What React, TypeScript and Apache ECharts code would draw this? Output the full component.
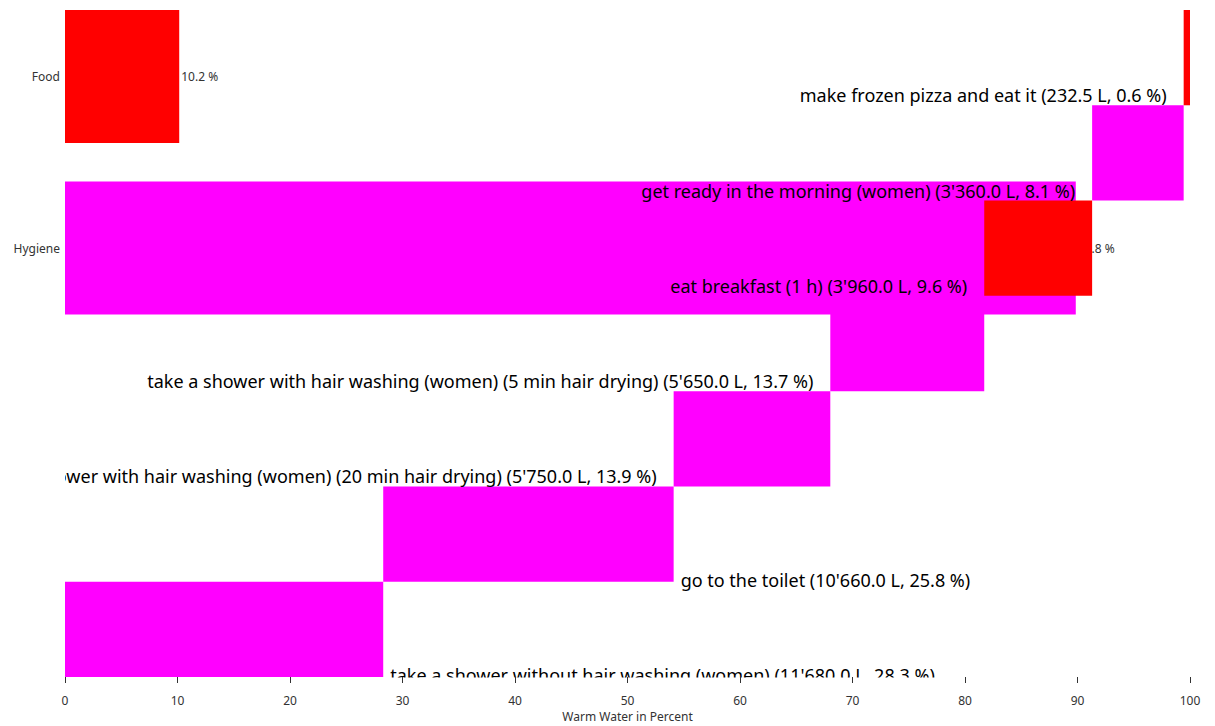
import React, { useEffect, useRef } from "react";
import * as echarts from "echarts";

const activities = [
  "take a shower without hair washing (women)",
  "go to the toilet",
  "take a shower with hair washing (women) (20 min hair drying)",
  "take a shower with hair washing (women) (5 min hair drying)",
  "eat breakfast (1 h)",
  "get ready in the morning (women)",
  "make frozen pizza and eat it",
];
const liters = [11680, 10660, 5750, 5650, 3960, 3360, 232.5];
const activityGroup = ["Hygiene", "Hygiene", "Hygiene", "Hygiene", "Food", "Hygiene", "Food"];
const groups = ["Food", "Hygiene"];
const groupColors: Record<string, string> = { Food: "#ff0000", Hygiene: "#ff00ff" };
const xTicks = [0, 10, 20, 30, 40, 50, 60, 70, 80, 90, 100];

const FONT = "'Noto Sans', 'Open Sans', sans-serif";

function fmtL(v: number) {
  const s = v.toFixed(1);
  const [i, d] = s.split(".");
  return i.replace(/\B(?=(\d{3})+(?!\d))/g, "'") + "." + d;
}

export default function App() {
  const ref = useRef<HTMLDivElement>(null);
  useEffect(() => {
    document.body.style.margin = "0";
    if (!ref.current) return;
    const chart = echarts.init(ref.current, undefined, { renderer: "svg" });
    const total = liters.reduce((a, b) => a + b, 0);
    const pct = liters.map((l) => (l / total) * 100);
    const starts: number[] = [];
    let acc = 0;
    pct.forEach((p) => {
      starts.push(acc);
      acc += p;
    });
    const groupPct = groups.map((g) =>
      liters.reduce((s, l, i) => (activityGroup[i] === g ? s + l : s), 0) / total * 100
    );

    const visibleData = pct.map((p, i) => {
      const left = starts[i] > 40;
      return {
        value: p,
        itemStyle: { color: groupColors[activityGroup[i]] },
        label: {
          show: true,
          formatter: `${activities[i]} (${fmtL(liters[i])} L, ${p.toFixed(1)} %)`,
          position: left ? [-17, "100%"] : ["100%", "100%"],
          align: left ? "right" : "left",
          verticalAlign: "middle",
          offset: left ? [0, -10] : [7, -2],
          fontSize: 18,
          fontFamily: FONT,
          color: "#000",
        },
      };
    });

    chart.setOption({
      animation: false,
      grid: [
        { left: 65, right: 25, top: -9.25, height: 343, containLabel: false, outerBoundsMode: "none" },
        { left: 65, right: 25, top: 10, height: 667, containLabel: false, outerBoundsMode: "none" },
      ],
      xAxis: [
        { type: "value", gridIndex: 0, min: 0, max: 100, show: false },
        {
          type: "value",
          gridIndex: 1,
          min: 0,
          max: 100,
          interval: 10,
          z: 60,
          splitLine: { show: false },
          axisLine: { show: false },
          axisTick: { show: true, length: 6, lineStyle: { color: "#333" } },
          axisLabel: {
            margin: 17,
            fontSize: 12,
            fontFamily: FONT,
            color: "#333",
            formatter: (v: number) => (xTicks.includes(v) ? String(v) : ""),
          },
          name: "Warm Water in Percent",
          nameLocation: "middle",
          nameGap: 32,
          nameTextStyle: { fontSize: 12, fontFamily: FONT, color: "#333" },
        },
      ],
      yAxis: [
        {
          type: "category",
          gridIndex: 0,
          data: groups,
          inverse: true,
          axisLine: { show: false },
          axisTick: { show: false },
          axisLabel: { fontSize: 12, fontFamily: FONT, color: "#333", margin: 5 },
        },
        {
          type: "category",
          gridIndex: 1,
          data: activities,
          show: false,
        },
      ],
      series: [
        {
          type: "bar",
          xAxisIndex: 0,
          yAxisIndex: 0,
          z: 1,
          barWidth: 133,
          data: groupPct.map((v, i) => ({ value: v, itemStyle: { color: groupColors[groups[i]] } })),
          label: {
            show: true,
            position: "right",
            distance: 2,
            fontSize: 12,
            fontFamily: FONT,
            color: "#333",
            formatter: (p: any) => `${p.value.toFixed(1)} %`,
          },
        },
        {
          type: "bar",
          xAxisIndex: 1,
          yAxisIndex: 1,
          stack: "w",
          z: 2,
          barCategoryGap: "0%",
          itemStyle: { color: "transparent" },
          silent: true,
          data: starts,
        },
        {
          type: "bar",
          xAxisIndex: 1,
          yAxisIndex: 1,
          stack: "w",
          z: 2,
          barCategoryGap: "0%",
          data: visibleData,
        },
      ],
      graphic: [
        { type: "rect", z: 50, shape: { x: 0, y: 458, width: 65, height: 36 }, style: { fill: "#fff" } },
        { type: "rect", z: 50, shape: { x: 380, y: 677.5, width: 620, height: 14 }, style: { fill: "#fff" } },
      ],
    });
    return () => chart.dispose();
  }, []);
  return <div ref={ref} style={{ width: 1215, height: 726 }} />;
}
